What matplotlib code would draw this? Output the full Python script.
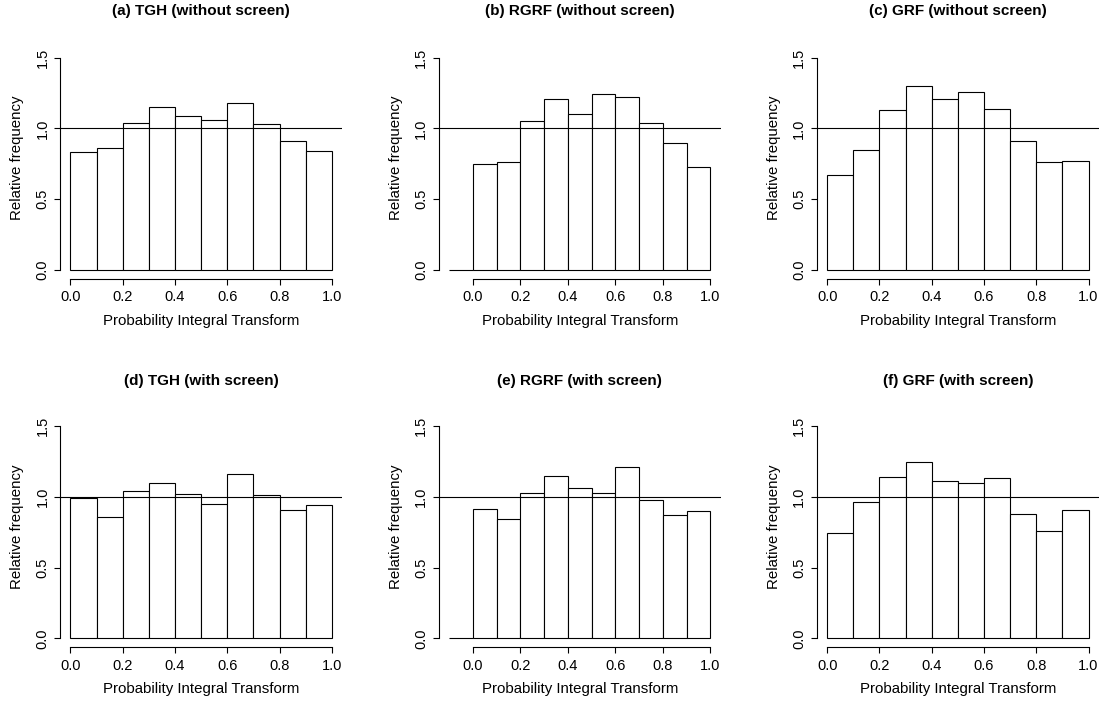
import numpy as np
import matplotlib
matplotlib.use("Agg")
import matplotlib.pyplot as plt

plt.rcParams["font.family"] = ["Liberation Sans", "DejaVu Sans"]

W, H = 1102, 702

# ── bar heights (relative frequency per PIT bin) ─────────────────────────────
edges_std  = [0.0, 0.1, 0.2, 0.3, 0.4, 0.5, 0.6, 0.7, 0.8, 0.9]
edges_rgrf = [-0.1, 0.0, 0.1, 0.2, 0.3, 0.4, 0.5, 0.6, 0.7, 0.8, 0.9]

tgh_without  = [0.83, 0.86, 1.04, 1.15, 1.09, 1.06, 1.18, 1.03, 0.91, 0.84]
rgrf_without = [0.0, 0.75, 0.76, 1.05, 1.21, 1.10, 1.24, 1.22, 1.04, 0.90, 0.73]
grf_without  = [0.67, 0.85, 1.13, 1.30, 1.21, 1.26, 1.14, 0.91, 0.76, 0.77]
tgh_with     = [0.99, 0.855, 1.04, 1.10, 1.02, 0.95, 1.16, 1.01, 0.905, 0.945]
rgrf_with    = [0.0, 0.915, 0.84, 1.03, 1.15, 1.06, 1.025, 1.21, 0.98, 0.87, 0.90]
grf_with     = [0.745, 0.965, 1.14, 1.245, 1.11, 1.095, 1.135, 0.88, 0.76, 0.91]

titles = ["(a) TGH (without screen)", "(b) RGRF (without screen)", "(c) GRF (without screen)",
          "(d) TGH (with screen)", "(e) RGRF (with screen)", "(f) GRF (with screen)"]
x_ticks = [0.0, 0.2, 0.4, 0.6, 0.8, 1.0]
y_ticks = [0.0, 0.5, 1.0, 1.5]

panels = [
    (edges_std, tgh_without), (edges_rgrf, rgrf_without), (edges_std, grf_without),
    (edges_std, tgh_with), (edges_rgrf, rgrf_with), (edges_std, grf_with),
]

# plot-region pixel boxes (left, right) per column and (top, bottom) per row
cols = [(60.0, 342.3), (438.7, 720.7), (816.7, 1099.0)]
rows = [(49.1, 278.5), (417.6, 646.8)]
title_y = [10.5, 381.0]
ylab_y = [158.0, 527.0]

LW = 0.8
FS_TICK = 10.5
FS_LAB = 10.8
FS_TITLE = 11


def fx(px):
    return px / W


def fy(py):
    return 1 - py / H


fig = plt.figure(figsize=(W / 100, H / 100), dpi=100)

for i, (edges, vals) in enumerate(panels):
    r, c = divmod(i, 3)
    l, rt = cols[c]
    t, b = rows[r]
    ax = fig.add_axes([fx(l), fy(b), (rt - l) / W, (b - t) / H])

    lo = edges[0]
    span = 1.0 - lo
    ax.set_xlim(lo - 0.04 * span, 1.0 + 0.04 * span)
    ax.set_ylim(-0.06, 1.56)

    ax.bar(edges, vals, width=0.1, align="edge", facecolor="white",
           edgecolor="black", linewidth=LW)
    ax.axhline(1.0, color="black", lw=LW)

    for s in ["top", "right"]:
        ax.spines[s].set_visible(False)
    ax.spines["bottom"].set_bounds(0.0, 1.0)
    ax.spines["left"].set_bounds(0.0, 1.5)
    ax.spines["bottom"].set_linewidth(LW)
    ax.spines["left"].set_linewidth(LW)

    ax.set_xticks(x_ticks)
    ax.set_xticklabels([f"{v:.1f}" for v in x_ticks], fontsize=FS_TICK)
    ax.set_yticks(y_ticks)
    ax.set_yticklabels([f"{v:.1f}" for v in y_ticks], fontsize=FS_TICK,
                       rotation=90, va="center")
    ax.tick_params(direction="out", length=4, width=LW)
    ax.tick_params(axis="x", pad=4.5)
    ax.tick_params(axis="y", pad=3.5)

    xc = (l + rt) / 2
    fig.text(fx(xc), fy(title_y[r]), titles[i], ha="center", va="center",
             fontsize=FS_TITLE, fontweight="bold")
    fig.text(fx(xc), fy(b + 42), "Probability Integral Transform",
             ha="center", va="center", fontsize=FS_LAB)
    fig.text(fx(l - 43), fy(ylab_y[r]), "Relative frequency", rotation=90,
             ha="center", va="center", fontsize=FS_LAB)

fig.savefig("out.png", dpi=100)
